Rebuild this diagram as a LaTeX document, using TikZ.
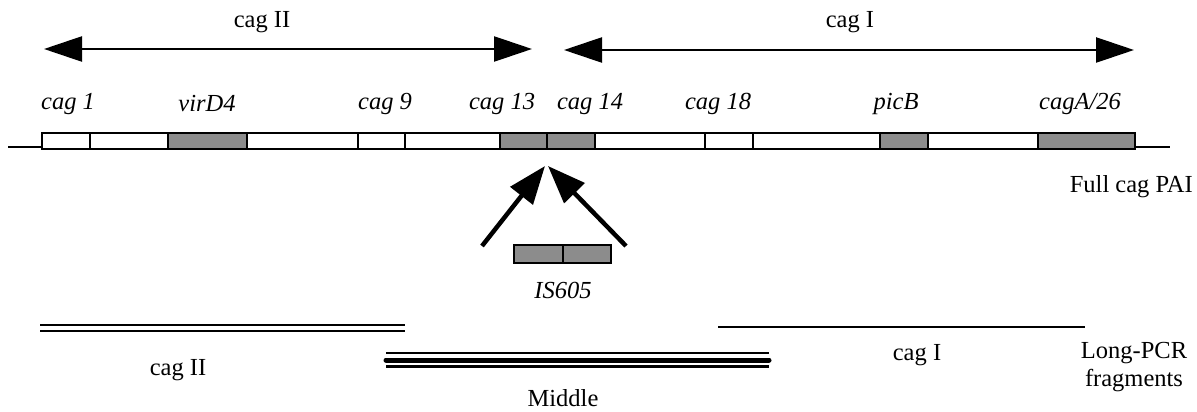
\documentclass[tikz,border=0pt]{standalone}
\usepackage{fontspec}
\setmainfont{Liberation Serif}
\usetikzlibrary{arrows.meta}
\tikzset{
  lbl/.style={font=\fontsize{24.5}{28}\selectfont, inner sep=0pt},
  glbl/.style={lbl, font=\fontsize{24.5}{28}\selectfont\itshape},
  wbox/.style={draw=black, line width=2.8pt, fill=white},
  sbox/.style={draw=black, line width=2.8pt, fill=black!45},
  span/.style={line width=2.4pt, {Triangle[length=38pt,width=25pt]}-{Triangle[length=38pt,width=25pt]}},
  ins/.style={line width=4.5pt, -{Triangle[length=38pt,width=28pt]}},
  frag/.style={line width=2.8pt},
}
\begin{document}
\begin{tikzpicture}[x=1pt,y=-1pt]
\useasboundingbox (0,0) rectangle (1197,412);

% top spans
\coordinate (c2a) at (44,49);
\coordinate (c2b) at (532,49);
\coordinate (c1a) at (564,50);
\coordinate (c1b) at (1134,50);
\draw[span] (c2a) -- (c2b);
\draw[span] (c1a) -- (c1b);
\node[lbl] (t2) at (262,22) {cag II};
\node[lbl] (t1) at (850,22) {cag I};

% gene labels
\node[glbl] (g1) at (68,104) {cag 1};
\node[glbl] (g2) at (207,104) {virD4};
\node[glbl] (g3) at (385,104) {cag 9};
\node[glbl] (g4) at (502,104) {cag 13};
\node[glbl] (g5) at (590,104) {cag 14};
\node[glbl] (g6) at (718,104) {cag 18};
\node[glbl] (g7) at (896,104) {picB};
\node[glbl] (g8) at (1080,104) {cagA/26};

% backbone
\coordinate (bbL) at (8,147);
\coordinate (bbR) at (1170,147);
\draw[line width=1.8pt] (bbL) -- (bbR);

% gene boxes
\foreach \a/\b/\s in {42/90/wbox,90/168/wbox,168/247/sbox,247/358/wbox,358/405/wbox,405/500/wbox,500/547/sbox,547/595/sbox,595/705/wbox,705/753/wbox,753/880/wbox,880/928/sbox,928/1038/wbox,1038/1135/sbox}
  \draw[\s] (\a,133) rectangle (\b,149);

\node[lbl, anchor=east] (full) at (1193,187) {Full cag PAI};

% insertion
\coordinate (tipL) at (545,166);
\coordinate (tipR) at (548,166);
\coordinate (tailL) at (482,246);
\coordinate (tailR) at (626,246);
\draw[ins] (tailL) -- (tipL);
\draw[ins] (tailR) -- (tipR);
\draw[sbox, line width=2.4pt] (514,245) rectangle (563,263);
\draw[sbox, line width=2.4pt] (563,245) rectangle (611,263);
\node[glbl] (is) at (563,290) {IS605};

% long-PCR fragments
\coordinate (f2a) at (40,325);
\coordinate (f2b) at (405,325);
\coordinate (f2c) at (40,331);
\coordinate (f2d) at (405,331);
\draw[frag] (f2a) -- (f2b);
\draw[frag] (f2c) -- (f2d);
\coordinate (fma) at (386,353);
\coordinate (fmb) at (769,353);
\coordinate (fmc) at (386,360);
\coordinate (fmd) at (769,360);
\coordinate (fme) at (386,366.5);
\coordinate (fmf) at (769,366.5);
\draw[line width=2.4pt] (fma) -- (fmb);
\draw[line width=5pt, line cap=round] (fmc) -- (fmd);
\draw[line width=2.4pt] (fme) -- (fmf);
\coordinate (f1a) at (718,327);
\coordinate (f1b) at (1085,327);
\draw[frag] (f1a) -- (f1b);

\node[lbl] (l2) at (178,370) {cag II};
\node[lbl] (lm) at (563,398) {Middle};
\node[lbl] (l1) at (917,355) {cag I};
\node[lbl, align=center] (lp) at (1134,367) {Long-PCR\\fragments};
\end{tikzpicture}
\end{document}
